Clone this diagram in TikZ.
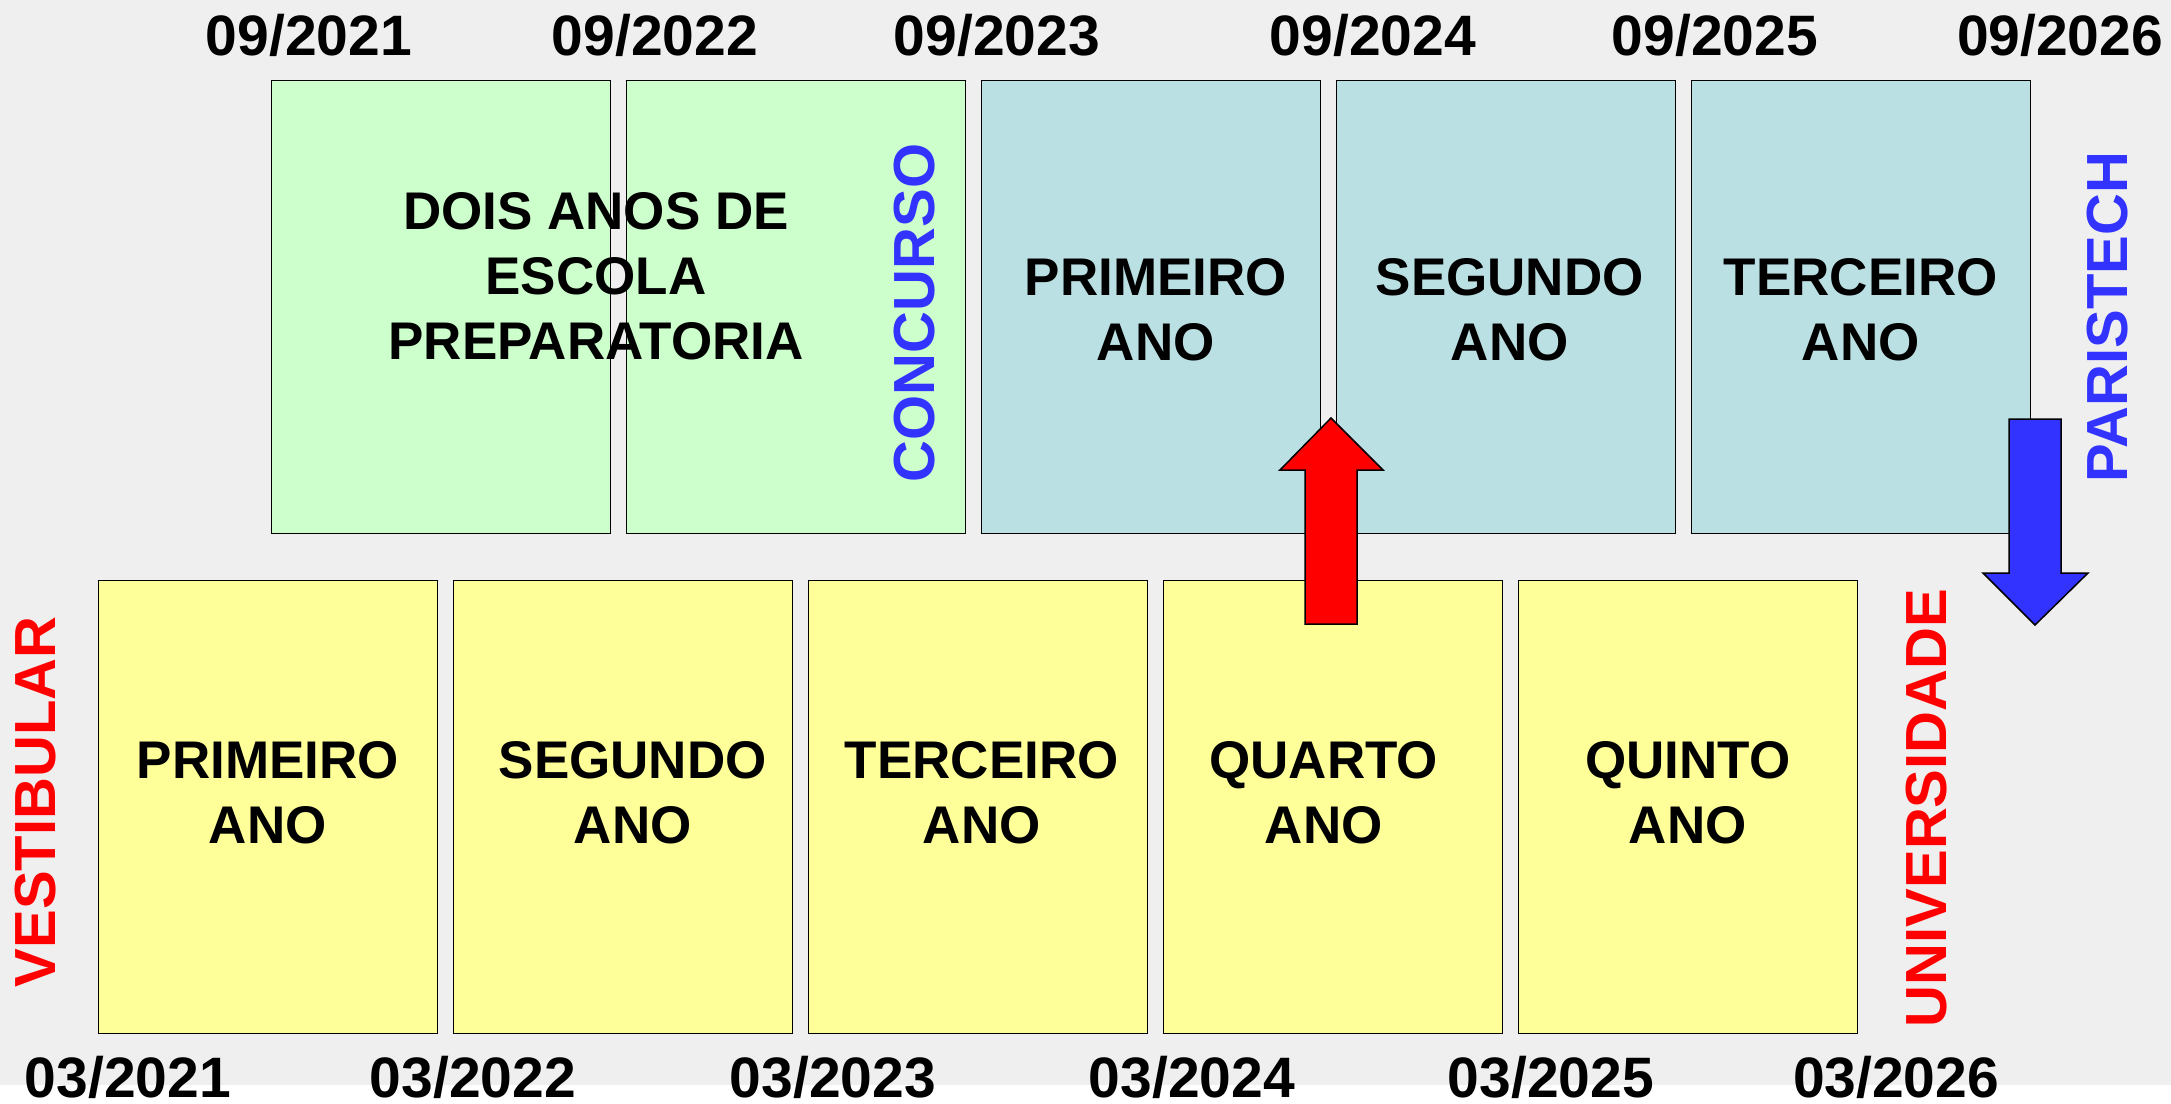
\documentclass[tikz,border=0pt]{standalone}
\usepackage{fontspec}
\setmainfont{Liberation Sans}
\usetikzlibrary{positioning}

\definecolor{prepgreen}{HTML}{CCFFCC}
\definecolor{techblue}{HTML}{BBE0E3}
\definecolor{uniyellow}{HTML}{FFFF99}
\definecolor{tagblue}{HTML}{3333FF}
\definecolor{bggray}{HTML}{EFEFEF}

\begin{document}
\begin{tikzpicture}[x=1pt,y=-1pt,node distance=14.5pt,
  yearbox/.style={draw,line width=1.5pt,minimum width=339pt,minimum height=453pt,inner sep=0pt,anchor=north west},
  yeartext/.style={align=center,inner sep=0pt,font=\fontsize{53}{65}\selectfont\bfseries},
  datetext/.style={inner sep=0pt,font=\fontsize{57}{60}\selectfont\bfseries},
  sidetext/.style={rotate=90,inner sep=0pt,font=\fontsize{58}{60}\selectfont\bfseries},
  bigarrow/.style={draw,line width=1.5pt}]
\fill[bggray] (0,0) rectangle (2171,1085);
\useasboundingbox (0,0) rectangle (2171,1103);

% top row: escola preparatoria + paristech
\node[yearbox,fill=prepgreen] (e1) at (270.5,79.5) {};
\node[yearbox,fill=prepgreen] (e2) [right=of e1] {};
\node[yearbox,fill=techblue] (p1) [right=of e2] {};
\node[yearbox,fill=techblue] (p2) [right=of p1] {};
\node[yearbox,fill=techblue] (p3) [right=of p2] {};

% bottom row: universidade
\node[yearbox,fill=uniyellow] (u1) at (97.5,579.5) {};
\node[yearbox,fill=uniyellow] (u2) [right=of u1] {};
\node[yearbox,fill=uniyellow] (u3) [right=of u2] {};
\node[yearbox,fill=uniyellow] (u4) [right=of u3] {};
\node[yearbox,fill=uniyellow] (u5) [right=of u4] {};

\node[yeartext] (prep) at (596,276) {DOIS ANOS DE\\ESCOLA\\PREPARATORIA};
\node[yeartext,xshift=5pt,yshift=-3pt] (p1t) at (p1.center) {PRIMEIRO\\ANO};
\node[yeartext,xshift=4pt,yshift=-3pt] (p2t) at (p2.center) {SEGUNDO\\ANO};
\node[yeartext,yshift=-3pt] (p3t) at (p3.center) {TERCEIRO\\ANO};
\node[yeartext,yshift=14pt] (u1t) at (u1.center) {PRIMEIRO\\ANO};
\node[yeartext,xshift=10pt,yshift=14pt] (u2t) at (u2.center) {SEGUNDO\\ANO};
\node[yeartext,xshift=4pt,yshift=14pt] (u3t) at (u3.center) {TERCEIRO\\ANO};
\node[yeartext,xshift=-9pt,yshift=14pt] (u4t) at (u4.center) {QUARTO\\ANO};
\node[yeartext,yshift=14pt] (u5t) at (u5.center) {QUINTO\\ANO};

% dates
\node[datetext] (s21) at (309,35) {09/2021};
\node[datetext] (s22) at (655,35) {09/2022};
\node[datetext] (s23) at (997,35) {09/2023};
\node[datetext] (s24) at (1373,35) {09/2024};
\node[datetext] (s25) at (1715,35) {09/2025};
\node[datetext] (s26) at (2060,35) {09/2026};
\node[datetext] (m21) at (128,1077) {03/2021};
\node[datetext] (m22) at (473,1077) {03/2022};
\node[datetext] (m23) at (833,1077) {03/2023};
\node[datetext] (m24) at (1192,1077) {03/2024};
\node[datetext] (m25) at (1551,1077) {03/2025};
\node[datetext] (m26) at (1896,1077) {03/2026};

% side labels
\node[sidetext,text=tagblue] (concurso) at (915,313) {CONCURSO};
\node[sidetext,text=tagblue] (paristech) at (2108,317) {PARISTECH};
\node[sidetext,text=red] (vestibular) at (36,802) {VESTIBULAR};
\node[sidetext,text=red] (universidade) at (1927,808) {UNIVERSIDADE};

% transfer arrows
\coordinate (upbase) at (1331,624);
\coordinate (downbase) at (2035,419);
\draw[bigarrow,fill=red] (upbase) ++(-26,0) -- ++(0,-154) -- ++(-25,0) -- ++(51,-52) -- ++(52,52) -- ++(-26,0) -- ++(0,154) -- cycle;
\draw[bigarrow,fill=tagblue] (downbase) ++(-26,0) -- ++(0,154) -- ++(-26,0) -- ++(52,52) -- ++(53,-52) -- ++(-27,0) -- ++(0,-154) -- cycle;
\end{tikzpicture}
\end{document}
